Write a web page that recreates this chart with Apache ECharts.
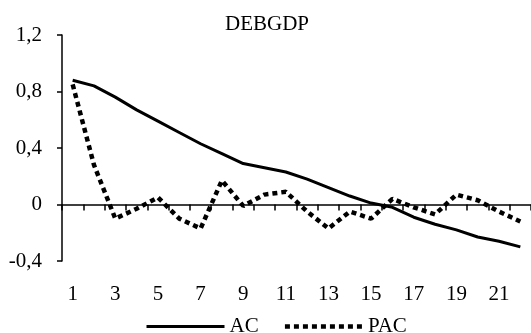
<!DOCTYPE html>
<html>
<head>
<meta charset="utf-8">
<script src="https://cdn.jsdelivr.net/npm/echarts@6/dist/echarts.min.js"></script>
<style>html,body{margin:0;padding:0;background:#fff}#c{width:531px;height:333px}</style>
</head>
<body>
<div id="c"></div>
<script>
var categories = ['1','2','3','4','5','6','7','8','9','10','11','12','13','14','15','16','17','18','19','20','21','22'];
var acValues = [0.88,0.84,0.76,0.67,0.59,0.51,0.43,0.36,0.29,0.26,0.23,0.18,0.12,0.06,0.01,-0.02,-0.09,-0.14,-0.18,-0.23,-0.26,-0.30];
var pacValues = [0.85,0.28,-0.10,-0.03,0.05,-0.10,-0.17,0.17,-0.01,0.07,0.09,-0.05,-0.17,-0.05,-0.10,0.04,-0.02,-0.07,0.07,0.03,-0.05,-0.12];
var yTicks = {min: -0.4, max: 1.2, interval: 0.4};

var FONT = 'Liberation Serif';
var chart = echarts.init(document.getElementById('c'));
chart.setOption({
  backgroundColor: '#fff',
  animation: false,
  title: {
    text: 'DEBGDP', left: 225, top: 14, padding: 0,
    textStyle: {fontFamily: FONT, fontSize: 21, fontWeight: 'normal', color: '#000'}
  },
  legend: {
    left: 140, top: 311, itemWidth: 78, itemHeight: 14, itemGap: 24,
    itemStyle: {opacity: 0},
    textStyle: {fontFamily: FONT, fontSize: 21, color: '#000'},
    data: [
      {name: 'AC', lineStyle: {width: 3, color: '#000'}},
      {name: 'PAC', lineStyle: {width: 4.5, type: [5, 4], color: '#000'}}
    ]
  },
  grid: {left: 62, top: 35, bottom: 72, right: -12, containLabel: false},
  xAxis: {
    type: 'category', data: categories, boundaryGap: true,
    axisLine: {lineStyle: {color: '#000', width: 1.5}},
    axisTick: {show: true, interval: 0, length: 6, lineStyle: {color: '#000', width: 1.5}},
    axisLabel: {interval: 1, margin: 23, fontFamily: FONT, fontSize: 21, color: '#000'},
    splitLine: {show: false}
  },
  yAxis: {
    type: 'value', min: yTicks.min, max: yTicks.max, interval: yTicks.interval,
    axisLine: {show: true, lineStyle: {color: '#000', width: 1.5}},
    axisTick: {show: true, length: 5, lineStyle: {color: '#000', width: 1.5}},
    axisLabel: {margin: 20, fontFamily: FONT, fontSize: 21, color: '#000',
      formatter: function (v) { return String(Math.round(v * 10) / 10).replace('.', ','); }},
    splitLine: {show: false}
  },
  series: [
    {name: 'AC', type: 'line', data: acValues, symbol: 'none', showSymbol: false,
     lineStyle: {color: '#000', width: 3}, itemStyle: {color: '#000'}},
    {name: 'PAC', type: 'line', data: pacValues, symbol: 'none', showSymbol: false,
     lineStyle: {color: '#000', width: 4.5, type: [5, 4]}, itemStyle: {color: '#000'}}
  ]
});
</script>
</body>
</html>
